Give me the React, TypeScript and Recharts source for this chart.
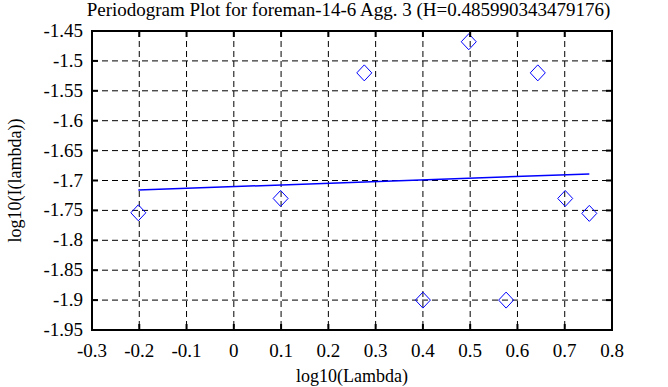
import { ScatterChart, Scatter, XAxis, YAxis, CartesianGrid, ReferenceArea } from "recharts";

// log10 of the frequencies and log10 of the periodogram at each one
const LOG_LAMBDA = [-0.202, 0.099, 0.276, 0.4, 0.497, 0.576, 0.643, 0.701, 0.752];
const LOG_I = [-1.754, -1.73, -1.52, -1.9, -1.468, -1.9, -1.52, -1.73, -1.755];

// fitted regression line, two ends
const FIT_X = [-0.202, 0.752];
const FIT_Y = [-1.716, -1.689];

const X_TICKS = [-0.3, -0.2, -0.1, 0, 0.1, 0.2, 0.3, 0.4, 0.5, 0.6, 0.7, 0.8];
const Y_TICKS = [-1.95, -1.9, -1.85, -1.8, -1.75, -1.7, -1.65, -1.6, -1.55, -1.5, -1.45];

const TITLE = "Periodogram Plot for foreman-14-6 Agg. 3 (H=0.485990343479176)";

const W = 668;
const H = 387;
const M = { top: 31, right: 56, bottom: 0, left: 0 };
const Y_AXIS_W = 92;
const X_AXIS_H = 57;
const PW = W - M.left - M.right - Y_AXIS_W;
const PH = H - M.top - M.bottom - X_AXIS_H;

const FONT = "'Liberation Serif', 'Times New Roman', serif";
const textStyle = { fontFamily: FONT, fontSize: 19, fill: "#000" };

const points = LOG_LAMBDA.map((x, i) => ({ x, y: LOG_I[i] }));
const fit = FIT_X.map((x, i) => ({ x, y: FIT_Y[i] }));

const Diamond = (props: any) => {
  const { cx, cy } = props;
  if (cx == null || cy == null) return <g />;
  return (
    <path
      d={`M${cx},${cy - 8} L${cx + 7.5},${cy} L${cx},${cy + 8} L${cx - 7.5},${cy} Z`}
      fill="none"
      stroke="#0000ff"
      strokeWidth={1}
    />
  );
};

const XTick = (props: any) => {
  const { x, y, payload } = props;
  return (
    <g>
      <line x1={x} y1={y} x2={x} y2={y - 6} stroke="#000" strokeWidth={2} />
      <line x1={x} y1={y - PH} x2={x} y2={y - PH + 6} stroke="#000" strokeWidth={2} />
      <text x={x} y={y + 27} textAnchor="middle" fontFamily={FONT} style={textStyle}>
        {payload.value}
      </text>
    </g>
  );
};

const YTick = (props: any) => {
  const { x, y, payload } = props;
  return (
    <g>
      <line x1={x} y1={y} x2={x + 6} y2={y} stroke="#000" strokeWidth={2} />
      <line x1={x + PW} y1={y} x2={x + PW - 6} y2={y} stroke="#000" strokeWidth={2} />
      <text x={x - 9} y={y + 6} textAnchor="end" fontFamily={FONT} style={textStyle}>
        {payload.value}
      </text>
    </g>
  );
};

export default function App() {
  return (
    <div style={{ position: "absolute", left: 0, top: 0, width: W, height: H, background: "#fff" }}>
      <div
        style={{
          position: "absolute",
          left: 0,
          top: 0,
          width: 697,
          textAlign: "center",
          fontFamily: FONT,
          fontSize: 19,
          lineHeight: "20px",
          color: "#000",
          whiteSpace: "nowrap",
        }}
      >
        {TITLE}
      </div>
      <ScatterChart width={W} height={H} margin={M}>
        <CartesianGrid stroke="#000" strokeDasharray="6 4" strokeWidth={1} />
        <XAxis
          dataKey="x"
          type="number"
          domain={[-0.3, 0.8]}
          ticks={X_TICKS}
          interval={0}
          height={X_AXIS_H}
          axisLine={false}
          tickLine={false}
          tickSize={0}
          tickMargin={0}
          tick={<XTick />}
          label={{
            value: "log10(Lambda)",
            position: "insideBottom",
            offset: 5,
            style: { ...textStyle, fontSize: 18 },
          }}
        />
        <YAxis
          dataKey="y"
          type="number"
          domain={[-1.95, -1.45]}
          ticks={Y_TICKS}
          interval={0}
          width={Y_AXIS_W}
          axisLine={false}
          tickLine={false}
          tickSize={0}
          tickMargin={0}
          tick={<YTick />}
          label={{
            value: "log10(I(lambda))",
            angle: -90,
            position: "insideLeft",
            offset: 15,
            style: { ...textStyle, fontSize: 18, textAnchor: "middle" },
          }}
        />
        <Scatter data={points} shape={<Diamond />} isAnimationActive={false} />
        <Scatter
          data={fit}
          line={{ stroke: "#0000ff", strokeWidth: 1.5 }}
          shape={() => <g />}
          isAnimationActive={false}
        />
        <ReferenceArea
          x1={-0.3}
          x2={0.8}
          y1={-1.95}
          y2={-1.45}
          fill="none"
          stroke="#000"
          strokeWidth={2}
          fillOpacity={0}
        />
      </ScatterChart>
    </div>
  );
}
